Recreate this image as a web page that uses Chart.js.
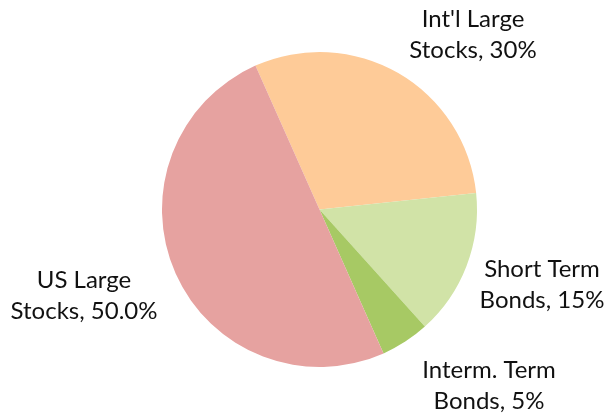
<!DOCTYPE html>
<html>
<head>
<meta charset="utf-8">
<script src="https://cdn.jsdelivr.net/npm/chart.js@4/dist/chart.umd.min.js"></script>
<style>
  html, body { margin: 0; padding: 0; background: #ffffff; }
  #wrap { width: 607px; height: 415px; }
</style>
</head>
<body>
<div id="wrap"><canvas id="c" width="607" height="415"></canvas></div>
<script>
const categories = ["Int'l Large Stocks", "Short Term Bonds", "Interm. Term Bonds", "US Large Stocks"];
const values = [30, 15, 5, 50];
const labelLines = [
  ["Int'l Large", "Stocks, 30%"],
  ["Short Term", "Bonds, 15%"],
  ["Interm. Term", "Bonds, 5%"],
  ["US Large", "Stocks, 50.0%"]
];
const colors = ["#FECB98", "#D1E3A7", "#A7C964", "#E6A2A0"];

// label anchor positions (center x, first baseline y)
const labelPos = [
  [473, 27],
  [542, 277],
  [489, 378],
  [84, 288]
];

const labelPlugin = {
  id: 'sliceLabels',
  afterDatasetsDraw(chart) {
    const ctx = chart.ctx;
    ctx.save();
    ctx.font = '24px Lato, "Open Sans", sans-serif';
    ctx.fillStyle = '#111111';
    ctx.textAlign = 'center';
    ctx.textBaseline = 'alphabetic';
    labelLines.forEach((lines, i) => {
      const [x, y] = labelPos[i];
      lines.forEach((t, j) => ctx.fillText(t, x, y + j * 30.5));
    });
    ctx.restore();
  }
};

new Chart(document.getElementById('c'), {
  type: 'pie',
  data: {
    labels: categories,
    datasets: [{
      data: values,
      backgroundColor: colors,
      borderWidth: 0
    }]
  },
  options: {
    responsive: false,
    animation: false,
    rotation: -24,
    layout: { padding: { left: 162, right: 130, top: 52, bottom: 48 } },
    plugins: {
      legend: { display: false },
      tooltip: { enabled: false }
    }
  },
  plugins: [labelPlugin]
});
</script>
</body>
</html>
